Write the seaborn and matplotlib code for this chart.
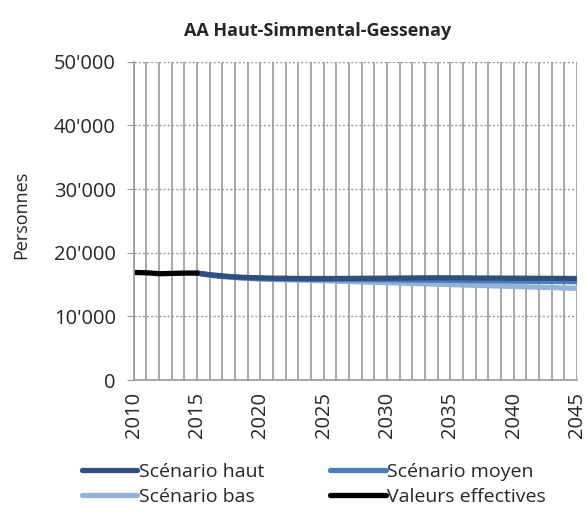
import numpy as np
import pandas as pd
import seaborn as sns
import matplotlib.pyplot as plt
from matplotlib.ticker import MultipleLocator, FuncFormatter

# valeurs
annees_eff = [2010, 2011, 2012, 2013, 2014, 2015]
valeurs_eff = [16900, 16850, 16700, 16750, 16800, 16800]

annees_scen = list(range(2015, 2046))
scen_haut = [16800, 16550, 16350, 16200, 16100, 16050, 16000, 15980, 15960, 15950, 15950,
             15960, 15970, 15980, 15990, 16000, 16020, 16040, 16050, 16060, 16050,
             16040, 16030, 16020, 16010, 16000, 15990, 15980, 15970, 15960, 15950]
scen_moyen = [16800, 16500, 16300, 16150, 16030, 15950, 15900, 15870, 15850, 15830, 15800,
              15790, 15780, 15770, 15760, 15750, 15730, 15710, 15690, 15670, 15650,
              15620, 15600, 15580, 15560, 15540, 15520, 15500, 15480, 15460, 15450]
scen_bas = [16800, 16450, 16250, 16080, 15950, 15850, 15800, 15750, 15700, 15650, 15600,
            15540, 15480, 15420, 15360, 15300, 15240, 15180, 15120, 15060, 15000,
            14940, 14880, 14820, 14760, 14700, 14640, 14580, 14520, 14460, 14400]

noms = ["Scénario haut", "Scénario moyen", "Scénario bas", "Valeurs effectives"]
couleurs = ["#2F4F7F", "#4A7EBB", "#95B3D7", "#000000"]

sns.set_style("white")
plt.rcParams['font.family'] = ['Open Sans', 'DejaVu Sans']

fig = plt.figure(figsize=(5.87, 5.14), dpi=100)
ax = fig.add_axes([0.228, 0.2607, 0.755, 0.619])

lw = 3.8
sns.lineplot(x=annees_scen, y=scen_bas, color=couleurs[2], lw=lw, ax=ax, label=noms[2])
sns.lineplot(x=annees_scen, y=scen_moyen, color=couleurs[1], lw=lw, ax=ax, label=noms[1])
sns.lineplot(x=annees_scen, y=scen_haut, color=couleurs[0], lw=lw, ax=ax, label=noms[0])
sns.lineplot(x=annees_eff, y=valeurs_eff, color=couleurs[3], lw=lw, ax=ax, label=noms[3])

ax.set_xlim(2010, 2045)
ax.set_ylim(0, 50000)
ax.xaxis.set_major_locator(MultipleLocator(5))
ax.xaxis.set_minor_locator(MultipleLocator(1))
ax.yaxis.set_major_locator(MultipleLocator(10000))
ax.yaxis.set_major_formatter(FuncFormatter(lambda v, p: f"{int(v):,}".replace(",", "'")))

ax.grid(True, axis='x', which='both', color='#999999', lw=1.2, ls='-')
ax.grid(True, axis='y', which='major', color='#999999', lw=1.0, ls=(0, (1.5, 1.5)))
ax.set_axisbelow(True)

for s in ['top', 'right']:
    ax.spines[s].set_visible(False)
for s in ['left', 'bottom']:
    ax.spines[s].set_color('#999999')
    ax.spines[s].set_linewidth(1.2)

ax.tick_params(axis='y', which='major', left=True, length=5, color='#999999',
               labelsize=14.5, pad=8)
ax.tick_params(axis='x', which='both', bottom=False, labelsize=14.5, pad=5)
plt.setp(ax.get_xticklabels(), rotation=90)

ax.set_xlabel("")
ax.set_ylabel("")
fig.text(21 / 587, 1 - 215 / 514, "Personnes", rotation=90, fontsize=13,
         ha='center', va='center')
fig.text(318 / 587, 1 - 31 / 514, "AA Haut-Simmental-Gessenay", fontsize=13,
         fontweight='bold', ha='center', va='center')

# ordre de remplissage par colonnes : haut, bas | moyen, effectives
handles, labels = ax.get_legend_handles_labels()
ax.get_legend().remove()
ordre_leg = [noms[0], noms[2], noms[1], noms[3]]
idx = [labels.index(n) for n in ordre_leg]
fig.legend([handles[i] for i in idx], [labels[i] for i in idx],
           loc='upper left', bbox_to_anchor=(82 / 587, 1 - 463 / 514), ncol=2,
           frameon=False, fontsize=14, handlelength=2.85, handletextpad=0.08,
           columnspacing=3.4, labelspacing=0.35, borderpad=0, borderaxespad=0)

fig.savefig("out.png", dpi=100)
